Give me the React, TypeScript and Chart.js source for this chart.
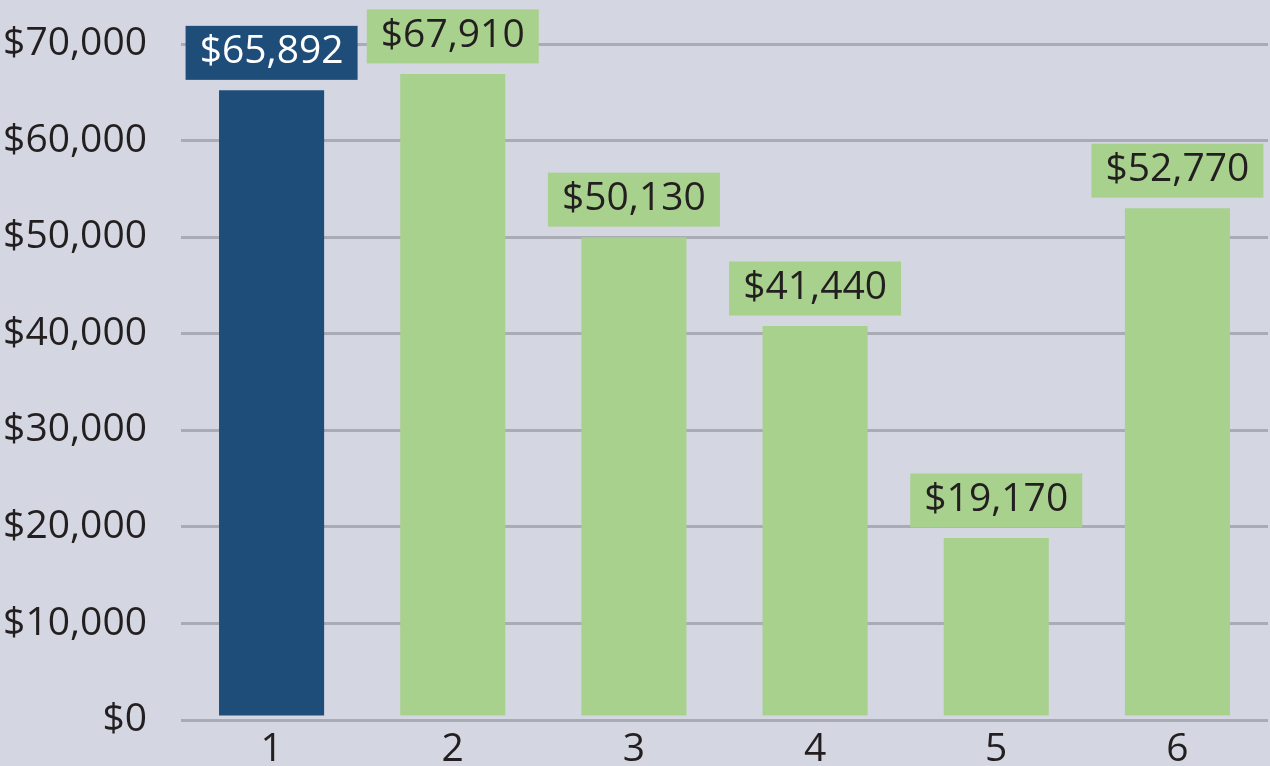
import React, { useEffect, useRef } from "react";
import { Chart, registerables } from "chart.js";

Chart.register(...registerables);

const categories = ["1", "2", "3", "4", "5", "6"];
// bar heights as drawn in the picture
const barValues = [65200, 66900, 50000, 40800, 18850, 53000];
// values printed in the label boxes
const labelValues = [65892, 67910, 50130, 41440, 19170, 52770];
const barColors = ["#1d4d78", "#a9d18e", "#a9d18e", "#a9d18e", "#a9d18e", "#a9d18e"];
const labelTextColors = ["#ffffff", "#231f20", "#231f20", "#231f20", "#231f20", "#231f20"];
const yTickValues = [0, 10000, 20000, 30000, 40000, 50000, 60000, 70000];

const BG = "#d4d6e2";
const GRID = "#a9abb5";
const TEXT = "#231f20";
const FONT = "'Open Sans', sans-serif";
const FONT_SIZE = 39;
const BAR_BASE = 470;

const fmt = (v: number) => "$" + v.toLocaleString("en-US");

const labelBoxes = {
  id: "labelBoxes",
  afterDatasetsDraw(chart: any) {
    const ctx = chart.ctx;
    const meta = chart.getDatasetMeta(0);
    ctx.save();
    ctx.font = `${FONT_SIZE}px ${FONT}`;
    ctx.textAlign = "center";
    ctx.textBaseline = "middle";
    meta.data.forEach((bar: any, i: number) => {
      const w = 172;
      const h = 54;
      const bottom = bar.y - 10.5;
      const top = bottom - h;
      ctx.fillStyle = barColors[i];
      ctx.fillRect(bar.x - w / 2, top, w, h);
      ctx.fillStyle = labelTextColors[i];
      ctx.fillText(fmt(labelValues[i]), bar.x, top + h / 2 - 1);
    });
    ctx.restore();
  },
};

export default function App() {
  const ref = useRef<HTMLCanvasElement>(null);
  useEffect(() => {
    document.body.style.margin = "0";
    const chart = new Chart(ref.current!, {
      type: "bar",
      data: {
        labels: categories,
        datasets: [
          {
            data: barValues,
            backgroundColor: barColors,
            base: BAR_BASE,
            barPercentage: 0.58,
            categoryPercentage: 1,
          } as any,
        ],
      },
      options: {
        responsive: false,
        animation: false,
        layout: { padding: { top: 44, right: 2, left: 0, bottom: 0 } },
        plugins: { legend: { display: false }, tooltip: { enabled: false } },
        scales: {
          x: {
            grid: { display: false },
            border: { display: false },
            ticks: { color: TEXT, font: { family: FONT, size: FONT_SIZE }, padding: -2 },
            afterFit: (s: any) => {
              s.height = 46;
            },
          },
          y: {
            min: 0,
            max: 70000,
            afterBuildTicks: (s: any) => {
              s.ticks = yTickValues.map((v) => ({ value: v }));
            },
            grid: {
              color: GRID,
              lineWidth: 3,
              drawTicks: true,
              tickLength: 34,
              tickColor: "rgba(0,0,0,0)",
            },
            border: { display: false },
            ticks: {
              color: TEXT,
              font: { family: FONT, size: FONT_SIZE },
              padding: 0,
              callback: (v: any) => fmt(Number(v)),
            },
            afterFit: (s: any) => {
              s.width = 181;
            },
          },
        },
      },
      plugins: [labelBoxes],
    });
    return () => chart.destroy();
  }, []);
  return (
    <div style={{ width: 1270, height: 766, background: BG }}>
      <canvas ref={ref} width={1270} height={766} style={{ display: "block", background: BG }} />
    </div>
  );
}
